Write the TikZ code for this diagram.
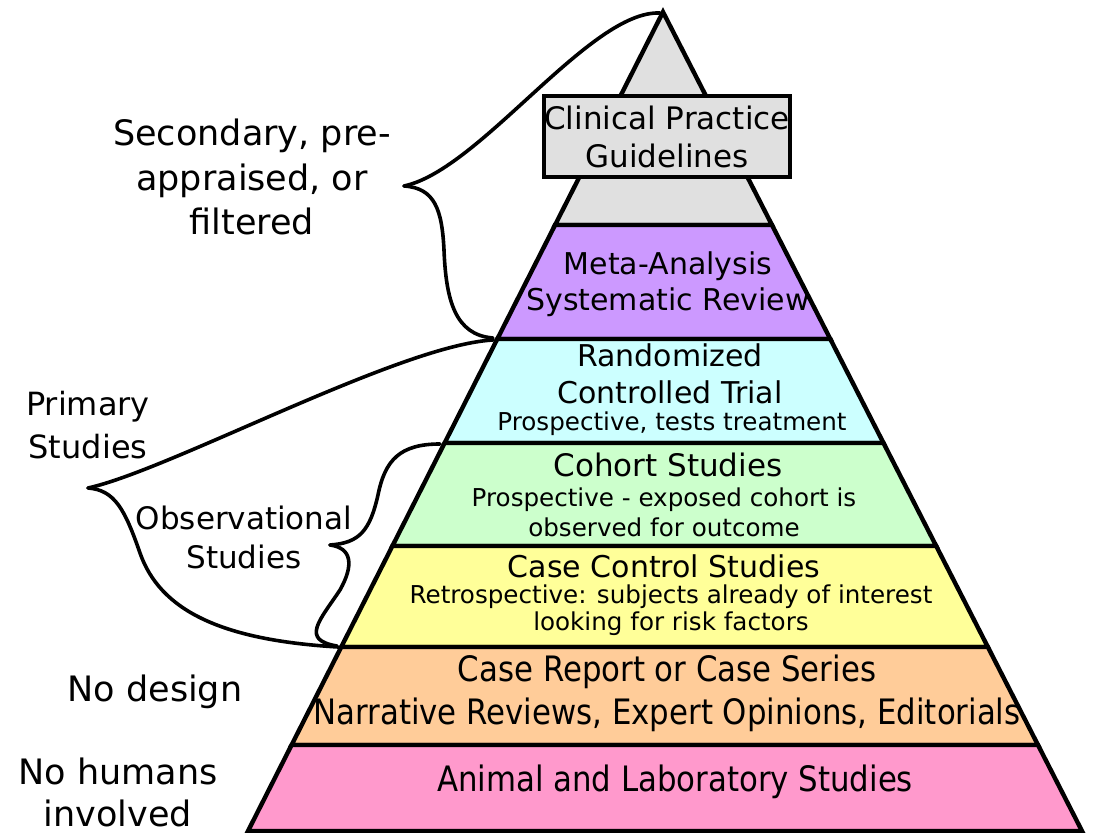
\documentclass[tikz,border=0pt]{standalone}
\usepackage{fontspec}
\setmainfont{DejaVu Sans}
\usetikzlibrary{calc}
\definecolor{guidegray}{HTML}{E0E0E0}
\definecolor{metapurple}{HTML}{CC99FF}
\definecolor{rctcyan}{HTML}{CCFFFF}
\definecolor{cohortgreen}{HTML}{CCFFCC}
\definecolor{ccyellow}{HTML}{FFFF99}
\definecolor{reportorange}{HTML}{FFCC99}
\definecolor{animalpink}{HTML}{FF99CC}
\tikzset{
	layer/.style={draw=black, line width=2.2pt, line join=miter},
	brace/.style={draw=black, line width=1.8pt, line cap=round},
	mainlbl/.style={align=center, inner sep=0pt, font=\fontsize{15}{19}\selectfont},
	sublbl/.style={align=center, inner sep=0pt, font=\fontsize{12.3}{14.5}\selectfont},
	condlbl/.style={align=center, inner sep=0pt, xscale=0.88, font=\fontsize{17.5}{21.5}\selectfont},
	sidelbl/.style={align=center, inner sep=0pt, font=\fontsize{17.5}{22.3}\selectfont},
}

\begin{document}
\begin{tikzpicture}[x=0.5pt, y=-0.5pt]
		\useasboundingbox (0,0) rectangle (1094,833);

		\coordinate (apex) at (663,12);
		\coordinate (sectop) at (660,13);
		\coordinate (sectip) at (404,186);
		\coordinate (secbot) at (493,338);
		\coordinate (primtop) at (493,340);
		\coordinate (primtip) at (88,488);
		\coordinate (primbot) at (338,647);
		\coordinate (obstop) at (440,444);
		\coordinate (obstip) at (330,545);
		\coordinate (obsbot) at (337,646);

		% braces
		\draw[brace] (sectop) .. controls (590,10) and (480,170) .. (sectip);
		\draw[brace] (sectip) .. controls (435,188) and (442,210) .. (444,250)
			.. controls (446,300) and (455,335) .. (secbot);
		\draw[brace] (primtop) .. controls (400,345) and (170,470) .. (primtip);
		\draw[brace] (primtip) .. controls (115,490) and (125,510) .. (140,553)
			.. controls (160,610) and (220,640) .. (primbot);
		\draw[brace] (obstop) .. controls (400,444) and (385,460) .. (378,495)
			.. controls (370,530) and (360,543) .. (obstip);
		\draw[brace] (obstip) .. controls (352,548) and (354,565) .. (340,590)
			.. controls (320,620) and (300,640) .. (obsbot);

		% pyramid
		\filldraw[layer, fill=guidegray] (apex) -- ({663+0.5116*213},225) -- ({663-0.5067*213},225) -- cycle;
		\foreach \yt/\yb/\col in {225/339/metapurple, 339/443/rctcyan, 443/546/cohortgreen,
			546/647/ccyellow, 647/745/reportorange, 745/831/animalpink} {
			\filldraw[layer, fill=\col] ({663-0.5067*(\yt-12)},\yt) -- ({663+0.5116*(\yt-12)},\yt)
				-- ({663+0.5116*(\yb-12)},\yb) -- ({663-0.5067*(\yb-12)},\yb) -- cycle;
		}

		\node[draw=black, fill=guidegray, line width=1.8pt, minimum width=122pt, minimum height=40.5pt,
			inner sep=0pt, align=center, font=\fontsize{15.5}{19}\selectfont] at (667,136.5) (guide)
			{Clinical Practice\\Guidelines};
		\node[mainlbl, font=\fontsize{15}{18}\selectfont] at (668,284) (meta) {Meta-Analysis\\Systematic Review};
		\node[mainlbl, font=\fontsize{15}{18.5}\selectfont] at (670,374) (rct) {Randomized\\Controlled Trial};
		\node[sublbl] at (672,424) (rctsub) {Prospective, tests treatment};
		\node[mainlbl, font=\fontsize{15.5}{19}\selectfont] at (668,465) (cohort) {Cohort Studies};
		\node[sublbl, font=\fontsize{12.3}{15}\selectfont] at (664,512) (cohortsub) {Prospective - exposed cohort is\\observed for outcome};
		\node[mainlbl] at (664,566) (casectl) {Case Control Studies};
		\node[sublbl, font=\fontsize{12.3}{13.5}\selectfont] at (671,610) (casectlsub) {Retrospective: subjects already of interest\\looking for risk factors};
		\node[condlbl] at (667,693) (casereport) {Case Report or Case Series\\Narrative Reviews, Expert Opinions, Editorials};
		\node[condlbl] at (675,782) (animal) {Animal and Laboratory Studies};

		% side labels
		\node[sidelbl] at (252,177) (secondary) {Secondary, pre-\\appraised, or\\filtered};
		\node[sidelbl, font=\fontsize{16}{21.5}\selectfont] at (88,425) (primary) {Primary\\Studies};
		\node[sidelbl, font=\fontsize{15.5}{19.5}\selectfont] at (244,537) (observ) {Observational\\Studies};
		\node[sidelbl] at (155,692) (nodesign) {No design};
		\node[sidelbl, font=\fontsize{17.5}{21}\selectfont] at (118,792) (nohumans) {No humans\\involved};
\end{tikzpicture}
\end{document}
